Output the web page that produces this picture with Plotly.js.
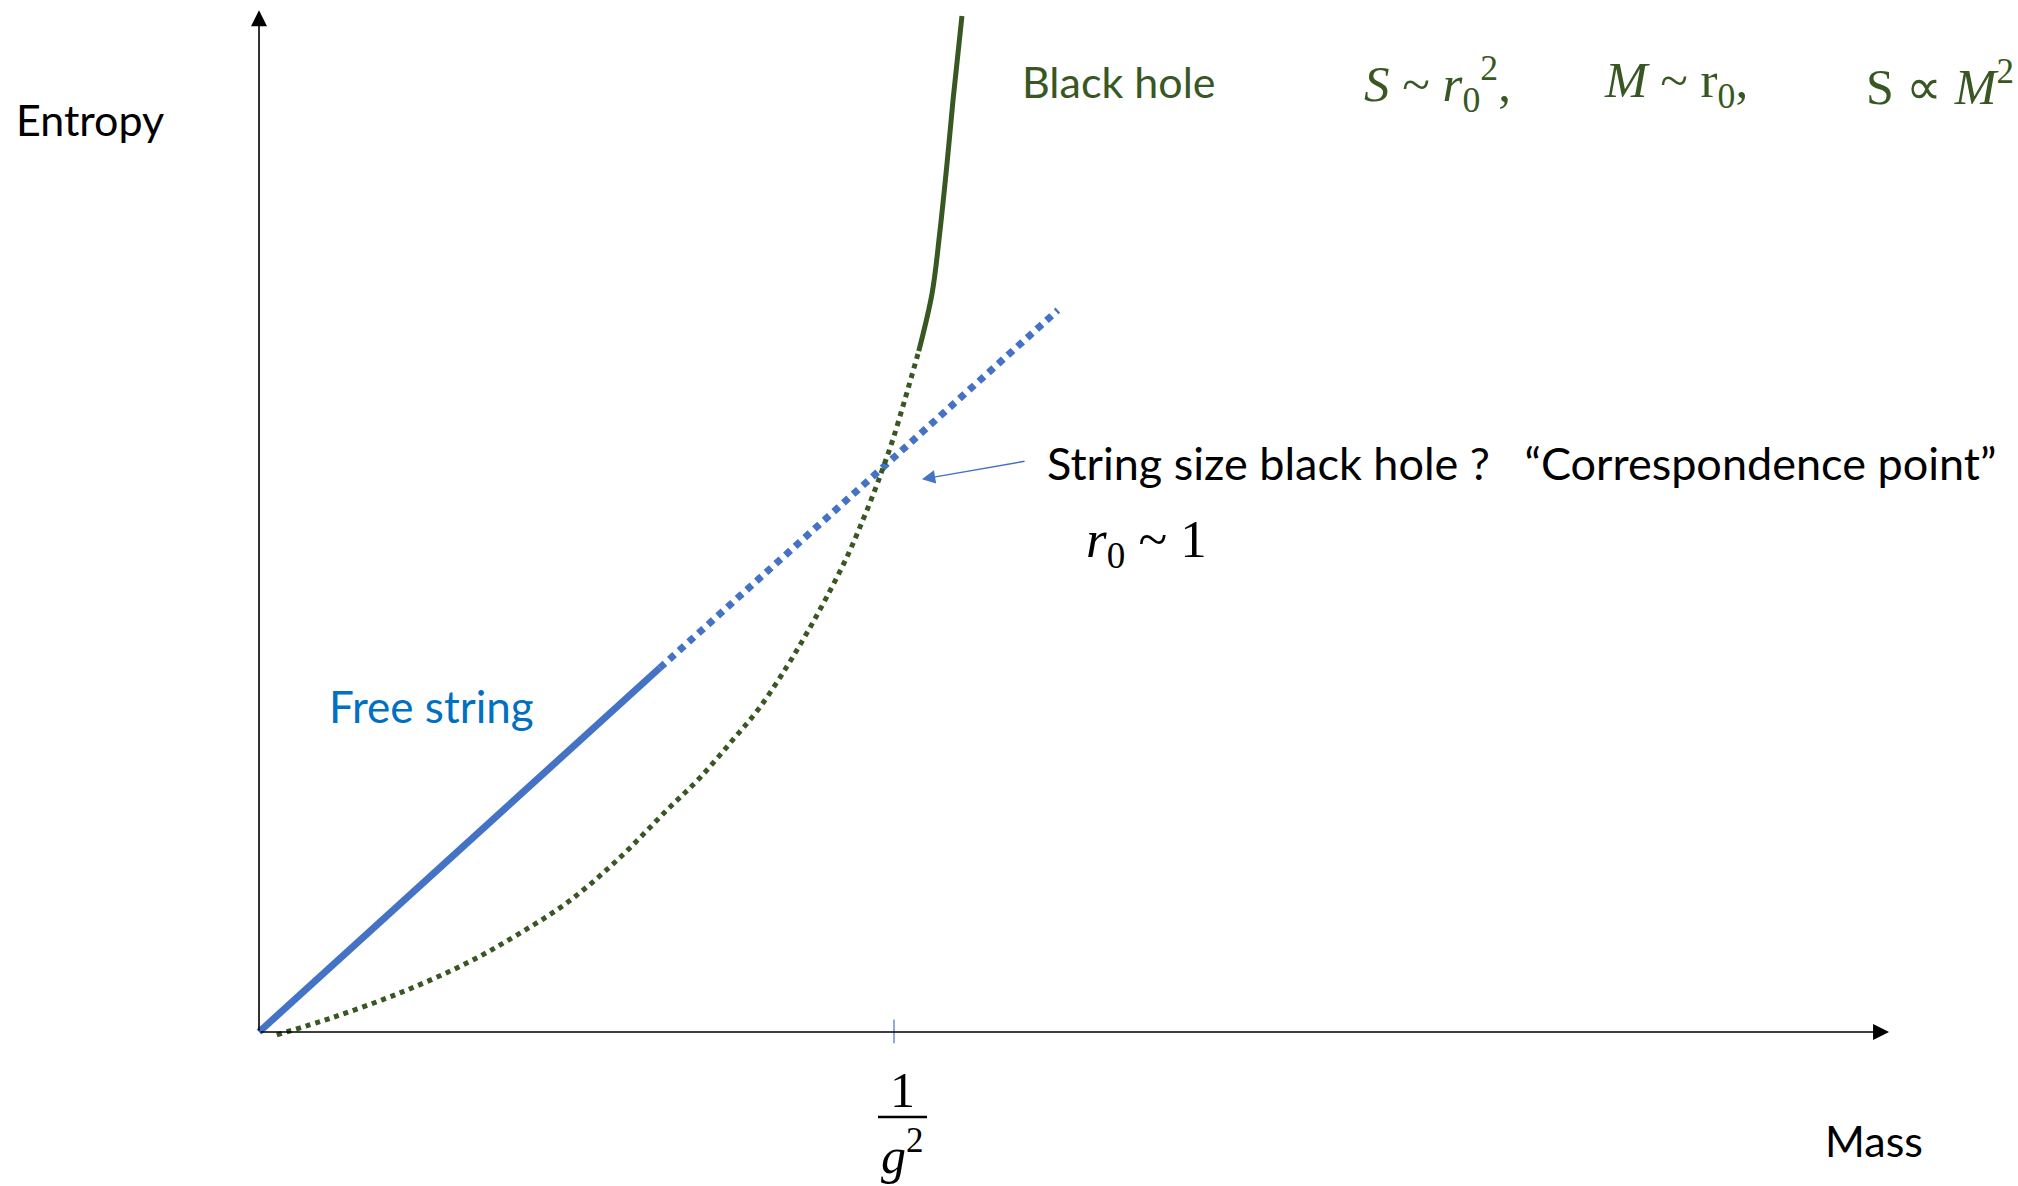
<!DOCTYPE html>
<html>
<head>
<meta charset="utf-8">
<script src="https://cdn.plot.ly/plotly-3.0.1.min.js"></script>
<style>
  html, body { margin: 0; padding: 0; background: #ffffff; }
  #chart { width: 2018px; height: 1186px; }
</style>
</head>
<body>
<div id="chart"></div>
<script>
// ---- Data (mass in units of 1/g^2, entropy in units of the correspondence value) ----
const massFree = [0, 0.631];
const entropyFree = [0, 0.642];

const massFreeExt = [0.631, 1.258];
const entropyFreeExt = [0.642, 1.273];

const massBHdotted = [0.028, 0.117, 0.222, 0.328, 0.406, 0.485, 0.564, 0.643, 0.694, 0.746, 0.789, 0.831, 0.863, 0.894, 0.926, 0.951, 0.970, 0.983, 0.998, 1.017, 1.039];
const entropyBHdotted = [-0.005, 0.026, 0.069, 0.122, 0.171, 0.228, 0.303, 0.392, 0.448, 0.515, 0.573, 0.644, 0.704, 0.767, 0.838, 0.903, 0.956, 0.996, 1.044, 1.115, 1.201];

const massBH = [1.039, 1.060, 1.072, 1.083, 1.093, 1.107];
const entropyBH = [1.201, 1.303, 1.409, 1.526, 1.644, 1.792];

const correspondenceMass = 1;          // 1/g^2 tick
const axisEndMass = 2.567;
const axisEndEntropy = 1.802;
const arrowTip = [1.044, 0.975];
const arrowTail = [1.208, 1.007];

const xLabel = "Mass";
const yLabel = "Entropy";
const freeLabel = "Free string";
const bhLabel = "Black hole";
const pointLabel = "String size black hole ?   \u201CCorrespondence point\u201D";

// ---- Style ----
const BLUE = "#4472C4";
const TEXTBLUE = "#0070C0";
const GREEN = "#385723";
const W = 2018, H = 1186;
const px = x => x / W;
const py = y => 1 - y / H;
const SERIF = "Liberation Serif";

const traces = [
  { x: massFree, y: entropyFree, mode: "lines", line: { color: BLUE, width: 7 }, hoverinfo: "skip" },
  { x: massFreeExt, y: entropyFreeExt, mode: "lines", line: { color: BLUE, width: 7, dash: "7px,6px" }, hoverinfo: "skip" },
  { x: massBHdotted, y: entropyBHdotted, mode: "lines", line: { color: GREEN, width: 5, shape: "spline", dash: "5px,5px" }, hoverinfo: "skip" },
  { x: massBH, y: entropyBH, mode: "lines", line: { color: GREEN, width: 5, shape: "spline" }, hoverinfo: "skip" }
];

const txt = (x, y, text, size, color, family, xanchor) => ({
  xref: "paper", yref: "paper", x: px(x), y: py(y), text: text, showarrow: false,
  xanchor: xanchor || "center", yanchor: "middle",
  font: { family: family || "Lato", size: size, color: color || "#000000" }
});

const annotations = [
  // axes with arrowheads
  { xref: "x", yref: "y", axref: "x", ayref: "y", x: axisEndMass, y: 0, ax: 0, ay: 0, text: "",
    showarrow: true, arrowhead: 2, arrowsize: 2, arrowwidth: 1.6, arrowcolor: "#000000", standoff: 0, startstandoff: 0 },
  { xref: "x", yref: "y", axref: "x", ayref: "y", x: 0, y: axisEndEntropy, ax: 0, ay: 0, text: "",
    showarrow: true, arrowhead: 2, arrowsize: 2, arrowwidth: 1.6, arrowcolor: "#000000", standoff: 0, startstandoff: 0 },
  // pointer arrow
  { xref: "x", yref: "y", axref: "x", ayref: "y", x: arrowTip[0], y: arrowTip[1], ax: arrowTail[0], ay: arrowTail[1], text: "",
    showarrow: true, arrowhead: 2, arrowsize: 1.9, arrowwidth: 1.4, arrowcolor: BLUE, standoff: 0 },
  // labels
  txt(90, 119, yLabel, 43),
  txt(1874, 1140, xLabel, 43),
  txt(431, 706, freeLabel, 44, TEXTBLUE),
  txt(1119, 81, bhLabel, 43, GREEN),
  txt(1362, 84, "<i>S</i> ~ <i>r</i><sub>0</sub><sup>2</sup>,", 51, GREEN, SERIF, "left"),
  txt(1602, 84, "<i>M</i> ~ r<sub>0</sub>,", 51, GREEN, SERIF, "left"),
  txt(1864, 84, "S \u221D <i>M</i><sup>2</sup>", 50, GREEN, SERIF, "left"),
  txt(1045, 463, pointLabel, 45, "#000000", "Lato", "left"),
  txt(1084, 543, "<i>r</i><sub>0</sub> ~ 1", 53, "#000000", SERIF, "left"),
  txt(902, 1090, "1", 50, "#000000", SERIF),
  txt(902, 1152, "<i>g</i><sup>2</sup>", 50, "#000000", SERIF)
];

const shapes = [
  // tick at 1/g^2
  { type: "line", xref: "x", yref: "y", x0: correspondenceMass, x1: correspondenceMass, y0: -0.02, y1: 0.022,
    line: { color: BLUE, width: 1.2 } },
  // fraction bar
  { type: "line", xref: "paper", yref: "paper", x0: px(878), x1: px(927), y0: py(1117), y1: py(1117),
    line: { color: "#000000", width: 2.5 } }
];

const layout = {
  width: W, height: H,
  margin: { l: 0, r: 0, t: 0, b: 0, pad: 0 },
  paper_bgcolor: "#ffffff", plot_bgcolor: "#ffffff",
  showlegend: false,
  font: { family: "Lato", color: "#000000" },
  xaxis: { range: [-259 / 635, 1759 / 635], visible: false, showgrid: false, zeroline: false, fixedrange: true },
  yaxis: { range: [-154 / 567, 1032 / 567], visible: false, showgrid: false, zeroline: false, fixedrange: true },
  annotations: annotations,
  shapes: shapes
};

Plotly.newPlot("chart", traces, layout, { displayModeBar: false, staticPlot: true });
</script>
</body>
</html>
